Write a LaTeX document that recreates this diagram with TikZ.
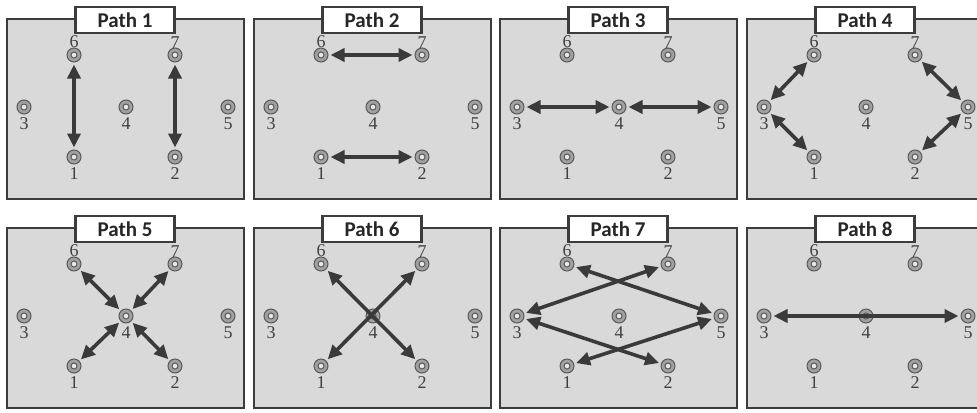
\documentclass[tikz,border=0pt]{standalone}
\usepackage{fontspec}
\setmainfont{Liberation Serif}
\newfontfamily\titlefont{Carlito}
\usetikzlibrary{arrows.meta}

\definecolor{panelgray}{HTML}{D9D9D9}
\definecolor{edgegray}{HTML}{3C3C3C}
\definecolor{ringgray}{HTML}{A0A0A0}
\definecolor{arrowgray}{HTML}{3A3A3A}

% one panel: name prefix, top-left corner, title
\newcommand{\pathpanel}[4]{%
  \begin{scope}[shift={(#2,#3)}]
    \draw[panel] (0,0) rectangle (237,180);
    \node[titlebox] (#1t) at (118,1) {#4};
    \foreach \n/\px/\py/\side/\dist in {1/67/138/below/1.5pt, 2/168/138/below/1.5pt,
        3/17/88/below/1.5pt, 4/119/88/below/1.5pt, 5/221/88/below/1.5pt,
        6/67/36/above/-0.5pt, 7/168/36/above/-0.5pt}
      \node[sensor, label={[label distance=\dist]\side:\n}] (#1\n) at (\px,\py) {};
  \end{scope}}

\begin{document}
\begin{tikzpicture}[x=0.5pt, y=-0.5pt,
    panel/.style={draw=edgegray, fill=panelgray, line width=1pt},
    titlebox/.style={draw=edgegray, fill=white, line width=1.2pt, minimum width=49.5pt,
      minimum height=13pt, inner sep=0pt, font=\titlefont\bfseries\fontsize{10.5}{11}\selectfont, text=black!85},
    sensor/.style={circle, draw=edgegray!85, fill=ringgray, line width=0.5pt, minimum size=7pt, inner sep=0pt,
      path picture={\draw[edgegray!85, line width=0.5pt, fill=panelgray!60] (path picture bounding box.center) circle (1.5pt);}},
    every label/.style={inner sep=0pt, text=black!75, font=\fontsize{9}{10}\selectfont},
    twoway/.style={{Triangle[length=7pt,width=6.5pt]}-{Triangle[length=7pt,width=6.5pt]},
      line width=1.8pt, arrowgray, shorten >=1pt, shorten <=1pt}]

    \useasboundingbox (0,0) rectangle (977,412);

    % Top row
    \pathpanel{a}{7}{19}{Path 1}
    \pathpanel{b}{254}{19}{Path 2}
    \pathpanel{c}{500}{19}{Path 3}
    \pathpanel{d}{747}{19}{Path 4}

    % Bottom row
    \pathpanel{e}{7}{228}{Path 5}
    \pathpanel{f}{254}{228}{Path 6}
    \pathpanel{g}{500}{228}{Path 7}
    \pathpanel{h}{747}{228}{Path 8}

    % Paths between sensors
    \foreach \from/\to in {a6/a1, a7/a2, b6/b7, b1/b2, c3/c4, c4/c5,
        d3/d6, d3/d1, d7/d5, d5/d2, e4/e6, e4/e7, e4/e1, e4/e2,
        f6/f2, f7/f1, g6/g5, g7/g3, g3/g2, g1/g5, h3/h5}
      \draw[twoway] (\from) -- (\to);
\end{tikzpicture}
\end{document}
